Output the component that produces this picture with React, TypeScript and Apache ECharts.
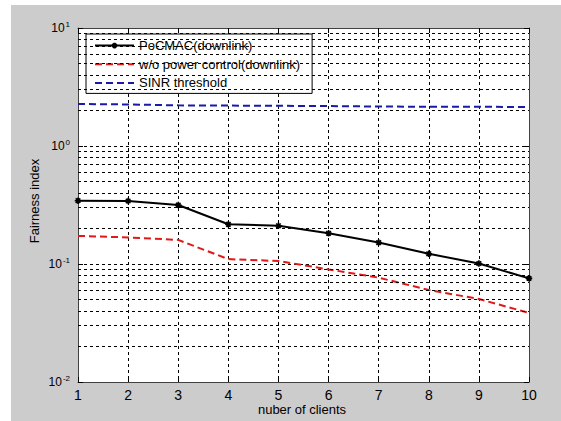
import React, { useEffect, useRef } from 'react';
import * as echarts from 'echarts';

const clients = [1, 2, 3, 4, 5, 6, 7, 8, 9, 10];
const pocmac = [0.344, 0.342, 0.316, 0.217, 0.211, 0.182, 0.152, 0.122, 0.101, 0.0756];
const noPowerControl = [0.173, 0.168, 0.16, 0.11, 0.106, 0.09, 0.0766, 0.0603, 0.0505, 0.0385];
const sinrThreshold = [2.27, 2.25, 2.21, 2.2, 2.19, 2.18, 2.16, 2.15, 2.15, 2.14];
const seriesNames = ['PoCMAC(downlink)', 'w/o power control(downlink)', 'SINR threshold'];
const yMinorGrid = [
  0.02, 0.03, 0.04, 0.05, 0.06, 0.07, 0.08, 0.09,
  0.2, 0.3, 0.4, 0.5, 0.6, 0.7, 0.8, 0.9,
  2, 3, 4, 5, 6, 7, 8, 9,
];
const xAxisTitle = 'nuber of clients';
const yAxisTitle = 'Fairness index';

const FONT = '"Liberation Sans", Arial, sans-serif';
// asterisk marker, padded so it renders at about half the symbol box
const STAR = 'path://M0 0M16 16M4 8H12M8 4V12M5.2 5.2L10.8 10.8M10.8 5.2L5.2 10.8';

export default function App() {
  const ref = useRef<HTMLDivElement>(null);
  useEffect(() => {
    if (!ref.current) return;
    const chart = echarts.init(ref.current, undefined, { renderer: 'svg' });
    const gridLine = { show: true, lineStyle: { color: '#000', width: 1, type: [3, 3] as any } };
    const axisLine = { show: true, lineStyle: { color: '#404040', width: 1 } };
    const tick = { show: true, inside: true, length: 5, lineStyle: { color: '#000' } };
    const pair = (arr: number[]) => clients.map((c, i) => [c, arr[i]]);
    chart.setOption({
      animation: false,
      backgroundColor: '#fff',
      textStyle: { fontFamily: FONT },
      graphic: [
        { type: 'rect', z: -10, shape: { x: 11, y: 5, width: 560, height: 420 }, style: { fill: '#cccccc' } },
        {
          type: 'text', x: 34, y: 201, rotation: Math.PI / 2,
          style: { text: yAxisTitle, fontSize: 13, fontFamily: FONT, fill: '#000', textAlign: 'center', textVerticalAlign: 'middle' },
        },
        {
          type: 'text', x: 302, y: 409,
          style: { text: xAxisTitle, fontSize: 13, fontFamily: FONT, fill: '#000', textAlign: 'center', textVerticalAlign: 'middle' },
        },
      ],
      grid: { left: 78, top: 28, right: 32, bottom: 39, show: true, backgroundColor: '#fff', borderWidth: 0 },
      legend: {
        data: [
          { name: seriesNames[0] },
          { name: seriesNames[1], itemStyle: { opacity: 0 } },
          { name: seriesNames[2], itemStyle: { opacity: 0 } },
        ],
        orient: 'vertical',
        left: 86,
        top: 34,
        itemWidth: 39,
        itemHeight: 14,
        itemGap: 5.6,
        padding: [5, 12, 4, 8],
        backgroundColor: '#fff',
        borderColor: '#000',
        borderWidth: 1,
        borderRadius: 0,
        textStyle: { fontSize: 13, fontFamily: FONT, color: '#000' },
      },
      xAxis: [
        {
          type: 'value', min: 1, max: 10, interval: 1, position: 'bottom',
          axisLine, axisTick: tick, splitLine: gridLine,
          axisLabel: { fontSize: 14, color: '#000', margin: 6, fontFamily: FONT },
        },
        {
          type: 'value', min: 1, max: 10, interval: 1, position: 'top',
          axisLine, axisTick: tick, splitLine: { show: false }, axisLabel: { show: false },
        },
      ],
      yAxis: [
        {
          type: 'log', logBase: 10, min: 0.01, max: 10, position: 'left',
          axisLine, axisTick: tick, splitLine: gridLine,
          axisLabel: {
            margin: 8,
            formatter: (v: number) => `{b|10}{s|${Math.round(Math.log10(v))}}`,
            rich: {
              b: { fontSize: 12, color: '#000', fontFamily: FONT },
              s: { fontSize: 8, color: '#000', fontFamily: FONT, padding: [0, 0, 8, 1] },
            },
          },
        },
        {
          type: 'log', logBase: 10, min: 0.01, max: 10, position: 'right',
          axisLine, axisTick: tick, splitLine: { show: false }, axisLabel: { show: false },
        },
      ],
      series: [
        {
          name: 'grid-minor', type: 'line', data: [], silent: true, z: 1,
          markLine: {
            silent: true, symbol: ['none', 'none'], label: { show: false },
            lineStyle: { color: '#000', width: 1, type: [3, 3] },
            data: yMinorGrid.map((v) => ({ yAxis: v })),
          },
        },
        {
          name: seriesNames[0], type: 'line', data: pair(pocmac), z: 5,
          symbol: STAR, symbolSize: 13,
          itemStyle: { color: '#000', borderColor: '#000', borderWidth: 1.6 },
          lineStyle: { color: '#000', width: 2 },
        },
        {
          name: seriesNames[1], type: 'line', data: pair(noPowerControl), z: 4, symbol: 'none',
          itemStyle: { color: '#e01818' },
          lineStyle: { color: '#e01818', width: 2, type: [7, 4] },
        },
        {
          name: seriesNames[2], type: 'line', data: pair(sinrThreshold), z: 4, symbol: 'none',
          itemStyle: { color: '#1a1aa8' },
          lineStyle: { color: '#1a1aa8', width: 2, type: [7, 4] },
        },
      ],
    });
    return () => chart.dispose();
  }, []);
  return <div ref={ref} style={{ position: 'fixed', left: 0, top: 0, width: 561, height: 421 }} />;
}
